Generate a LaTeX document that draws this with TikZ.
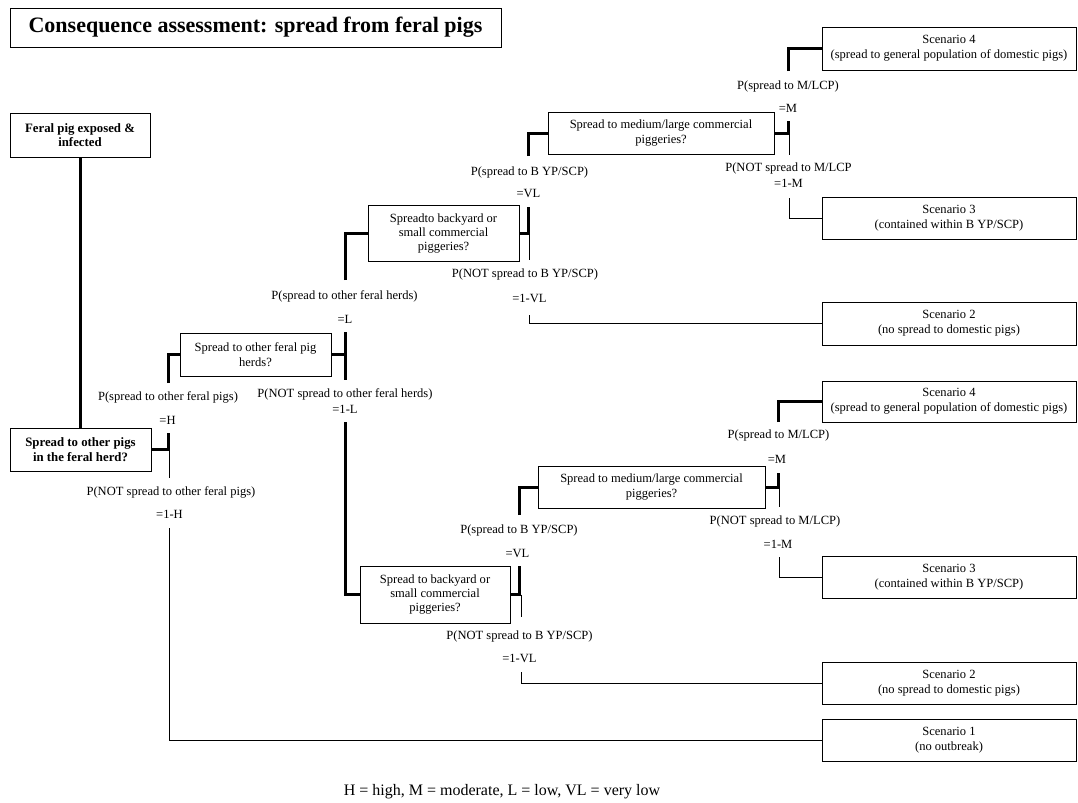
\documentclass[tikz,border=0pt]{standalone}
\usepackage{fontspec}
\setmainfont{Liberation Serif}
\begin{document}
\begin{tikzpicture}[x=0.75pt,y=-0.75pt,
  box/.style={draw=black,line width=0.75pt,inner sep=0pt,align=center,font=\fontsize{9.4}{11.5}\selectfont},
  tight/.style={font=\fontsize{9.4}{10.8}\selectfont},
  boldbox/.style={box,font=\fontsize{9.6}{10.8}\selectfont\bfseries},
  sz/.style 2 args={minimum width=#1*0.75pt,minimum height=#2*0.75pt},
  lab/.style={inner sep=0pt,font=\fontsize{9.4}{11}\selectfont},
  heavy/.style={line width=2.25pt},
  light/.style={line width=0.75pt}]
\useasboundingbox (0,0) rectangle (1078,803);

% ---- title ----
\node[box,sz={491}{39},font=\fontsize{16.5}{20}\selectfont\bfseries] (title) at (255.5,27.5)
  {Consequence assessment: spread from feral pigs};

% ---- decision boxes ----
\node[boldbox,sz={140}{44}] (feral) at (80,135) {Feral pig exposed \&\\infected};
\node[boldbox,sz={141}{43}] (herd) at (80.5,449.5) {Spread to other pigs\\in the feral herd?};
\node[box,tight,sz={151}{43}] (herds) at (255.5,354.5) {Spread to other feral pig\\herds?};
\node[box,tight,sz={151}{56}] (byA) at (443.5,233.5) {Spreadto backyard or\\small commercial\\piggeries?};
\node[box,tight,sz={150}{57}] (byB) at (435,594.5) {Spread to backyard or\\small commercial\\piggeries?};
\node[box,sz={226}{42}] (mlA) at (661,133) {Spread to medium/large commercial\\piggeries?};
\node[box,sz={227}{42}] (mlB) at (651.5,487) {Spread to medium/large commercial\\piggeries?};

% ---- outcome boxes ----
\node[box,sz={254}{43}] (s4A) at (949,48.5) {Scenario 4\\(spread to general population of domestic pigs)};
\node[box,sz={254}{42}] (s3A) at (949,218) {Scenario 3\\(contained within B YP/SCP)};
\node[box,sz={254}{43}] (s2A) at (949,323.5) {Scenario 2\\(no spread to domestic pigs)};
\node[box,sz={254}{41}] (s4B) at (949,401.5) {Scenario 4\\(spread to general population of domestic pigs)};
\node[box,sz={254}{42}] (s3B) at (949,577) {Scenario 3\\(contained within B YP/SCP)};
\node[box,sz={254}{42}] (s2B) at (949,683) {Scenario 2\\(no spread to domestic pigs)};
\node[box,sz={254}{42}] (s1) at (949,740) {Scenario 1\\(no outbreak)};

% ---- branch points and stub ends ----
\coordinate (j1) at (168,449.5);   \coordinate (j1u) at (168,433);   \coordinate (j1d) at (169.5,478);
\coordinate (a1) at (168,383);     \coordinate (b1) at (169.5,528);
\coordinate (j2) at (345,354.5);   \coordinate (j2u) at (345,332);   \coordinate (j2d) at (345,380);
\coordinate (a2) at (345,280);     \coordinate (b2) at (345,422);
\coordinate (j3) at (528,233.5);   \coordinate (j3u) at (528,207);   \coordinate (j3d) at (529.5,260);
\coordinate (a3) at (528,156);     \coordinate (b3) at (529.5,315);
\coordinate (j4) at (788,133);     \coordinate (j4u) at (788,121);   \coordinate (j4d) at (789,155);
\coordinate (a4) at (788,71);      \coordinate (b4) at (789,198);
\coordinate (j5) at (519.5,594.5); \coordinate (j5u) at (519.5,566); \coordinate (j5d) at (521,617);
\coordinate (a5) at (519.5,515);   \coordinate (b5) at (521,672);
\coordinate (j6) at (778,487);     \coordinate (j6u) at (778,473);   \coordinate (j6d) at (779,507);
\coordinate (a6) at (778,422);     \coordinate (b6) at (779,557);

% ---- connectors ----
\draw[heavy] (feral.south) -- (feral.south |- herd.north);

\draw[heavy] (herd.east) -- (j1) -- (j1u);
\draw[light] (j1d |- j1) -- (j1d);
\draw[heavy] (a1) |- (herds.west);
\draw[light] (b1) |- (s1.west);

\draw[heavy] (herds.east) -- (j2);
\draw[heavy] (j2u) -- (j2d);
\draw[heavy] (a2) |- (byA.west);
\draw[heavy] (b2) |- (byB.west);

\draw[heavy] (byA.east) -- (j3) -- (j3u);
\draw[light] (j3d |- j3) -- (j3d);
\draw[heavy] (a3) |- (mlA.west);
\draw[light] (b3) |- (s2A.west);

\draw[heavy] (mlA.east) -- (j4) -- (j4u);
\draw[light] (j4d |- j4) -- (j4d);
\draw[heavy] (a4) |- (s4A.west);
\draw[light] (b4) |- (s3A.west);

\draw[heavy] (byB.east) -- (j5) -- (j5u);
\draw[light] (j5d |- j5) -- (j5d);
\draw[heavy] (a5) |- (mlB.west);
\draw[light] (b5) |- (s2B.west);

\draw[heavy] (mlB.east) -- (j6) -- (j6u);
\draw[light] (j6d |- j6) -- (j6d);
\draw[heavy] (a6) |- (s4B.west);
\draw[light] (b6) |- (s3B.west);

% ---- probability labels ----
\node[lab] (p1) at (168,397.5) {P(spread to other feral pigs)};
\node[lab] (e1) at (167.5,420.5) {=H};
\node[lab] (q1) at (171,492.3) {P(NOT spread to other feral pigs)};
\node[lab] (f1) at (169.5,514.3) {=1-H};

\node[lab] (p2) at (344.5,296.7) {P(spread to other feral herds)};
\node[lab] (e2) at (345,319.3) {=L};
\node[lab] (q2) at (345,394.3) {P(NOT spread to other feral herds)};
\node[lab] (f2) at (345,409.3) {=1-L};

\node[lab] (p3) at (529.5,172) {P(spread to B YP/SCP)};
\node[lab] (e3) at (528.5,193) {=VL};
\node[lab] (q3) at (525,274.3) {P(NOT spread to B YP/SCP)};
\node[lab] (f3) at (529.5,298.3) {=1-VL};

\node[lab] (p4) at (788,86) {P(spread to M/LCP)};
\node[lab] (e4) at (788,108.3) {=M};
\node[lab] (q4) at (788.5,168.3) {P(NOT spread to M/LCP};
\node[lab] (f4) at (788.5,183.3) {=1-M};

\node[lab] (p5) at (519,530.7) {P(spread to B YP/SCP)};
\node[lab] (e5) at (517.5,553.3) {=VL};
\node[lab] (q5) at (519.5,636) {P(NOT spread to B YP/SCP)};
\node[lab] (f5) at (519.5,658.3) {=1-VL};

\node[lab] (p6) at (778.5,435.7) {P(spread to M/LCP)};
\node[lab] (e6) at (777,459.3) {=M};
\node[lab] (q6) at (775,521.7) {P(NOT spread to M/LCP)};
\node[lab] (f6) at (778,544.3) {=1-M};

% ---- key ----
\node[inner sep=0pt,font=\fontsize{12}{14}\selectfont] (key) at (502,792)
  {H = high, M = moderate, L = low, VL = very low};
\end{tikzpicture}
\end{document}
